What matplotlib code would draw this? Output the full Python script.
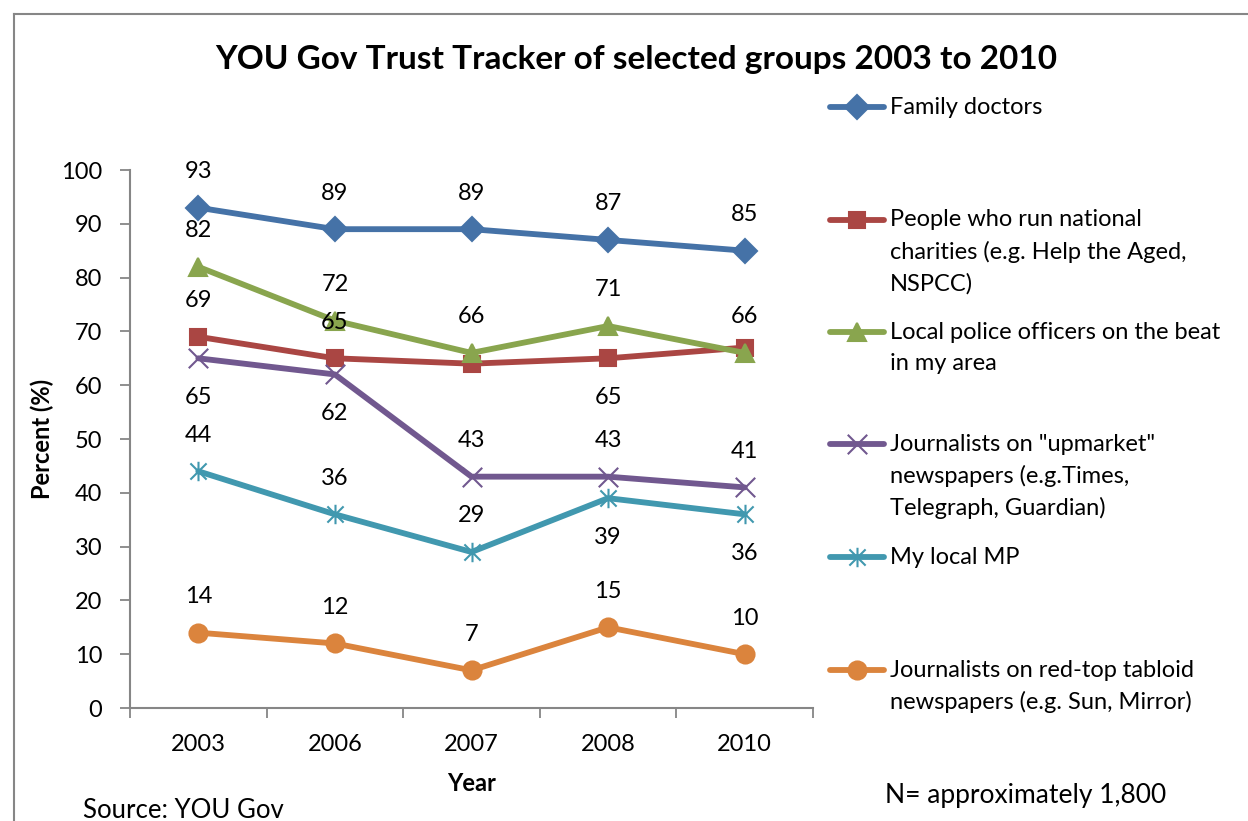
import matplotlib
matplotlib.use("Agg")
import matplotlib.pyplot as plt
from matplotlib.lines import Line2D
from matplotlib.path import Path

plt.rcParams["font.family"] = ["Lato", "DejaVu Sans"]

# ----- data -----
years = ["2003", "2006", "2007", "2008", "2010"]

family_doctors = [93, 89, 89, 87, 85]
charities = [69, 65, 64, 65, 67]
police = [82, 72, 66, 71, 66]
journalists_upmarket = [65, 62, 43, 43, 41]
local_mp = [44, 36, 29, 39, 36]
journalists_tabloid = [14, 12, 7, 15, 10]

series_names = [
    "Family doctors",
    "People who run national\ncharities (e.g. Help the Aged,\nNSPCC)",
    "Local police officers on the beat\nin my area",
    'Journalists on "upmarket"\nnewspapers (e.g.Times,\nTelegraph, Guardian)',
    "My local MP",
    "Journalists on red-top tabloid\nnewspapers (e.g. Sun, Mirror)",
]

# where the value labels sit: "a" above, "b" below, "" no label
label_pos = [
    ["a", "a", "a", "a", "a"],
    ["a", "a", "", "b", ""],
    ["a", "a", "a", "a", "a"],
    ["b", "b", "a", "a", "a"],
    ["a", "a", "a", "b", "b"],
    ["a", "a", "a", "a", "a"],
]

# ----- styles -----
colors = ["#4572A7", "#AA4643", "#89A54E", "#71588F", "#4198AF", "#DB843D"]

star = Path(
    [(-0.5, -0.5), (0.5, 0.5), (-0.5, 0.5), (0.5, -0.5), (0, -0.6), (0, 0.6)],
    [Path.MOVETO, Path.LINETO, Path.MOVETO, Path.LINETO, Path.MOVETO, Path.LINETO],
)
xmark = Path(
    [(-0.5, -0.5), (0.5, 0.5), (-0.5, 0.5), (0.5, -0.5)],
    [Path.MOVETO, Path.LINETO, Path.MOVETO, Path.LINETO],
)
markers = ["D", "s", "^", xmark, star, "o"]
msizes = [12, 12, 13, 14, 14, 13]

W, H = 1248, 821
FS = 17
LW = 4.2
GRAY = "#868686"


def fx(px):
    return px / W


def fy(py):
    return 1 - py / H


fig = plt.figure(figsize=(W / 100, H / 100), dpi=100)
ax = fig.add_axes([fx(130), fy(708), fx(813) - fx(130), fy(170) - fy(708)])

all_series = [family_doctors, charities, police, journalists_upmarket,
              local_mp, journalists_tabloid]
x = list(range(len(years)))

for i, vals in enumerate(all_series):
    ax.plot(x, vals, color=colors[i], lw=LW, marker=markers[i], ms=msizes[i],
            markeredgecolor=colors[i], markerfacecolor=colors[i],
            markeredgewidth=1.5, solid_capstyle="round", zorder=3)
    for j, v in enumerate(vals):
        pos = label_pos[i][j]
        if pos == "":
            continue
        off = 26 if pos == "a" else -28
        ax.annotate(str(v), (x[j], v), xytext=(0, off), textcoords="offset points",
                    ha="center", va="center", fontsize=FS, color="black", zorder=4)

ax.set_xlim(-0.5, len(years) - 0.5)
ax.set_ylim(0, 100)
ax.set_yticks(range(0, 101, 10))

ax.set_xticks([k - 0.5 for k in range(len(years) + 1)])
ax.set_xticklabels([])
ax.set_xticks(x, minor=True)
ax.set_xticklabels(years, minor=True)

ax.tick_params(axis="x", which="major", length=7, width=1.3, color=GRAY, direction="out")
ax.tick_params(axis="x", which="minor", length=0, pad=19, labelsize=FS)
ax.tick_params(axis="y", length=7, width=1.3, color=GRAY, direction="out",
               pad=13, labelsize=FS)

for s in ["top", "right"]:
    ax.spines[s].set_visible(False)
for s in ["left", "bottom"]:
    ax.spines[s].set_color(GRAY)
    ax.spines[s].set_linewidth(1.5)

# axis titles
fig.text(fx(42), fy(439), "Percent (%)", rotation=90, ha="center", va="center",
         fontsize=FS, fontweight="bold")
fig.text(fx(472), fy(783), "Year", ha="center", va="center",
         fontsize=FS, fontweight="bold")

fig.text(fx(636), fy(60), "YOU Gov Trust Tracker of selected groups 2003 to 2010",
         ha="center", va="center", fontsize=24, fontweight="bold")

fig.text(fx(83), fy(810), "Source: YOU Gov", ha="left", va="center", fontsize=18.5)
fig.text(fx(885), fy(795), "N= approximately 1,800", ha="left", va="center", fontsize=19)

# legend drawn by hand so the marker sits on the first text line
entry_tops = [107, 220, 332, 444, 557, 670]
for i, name in enumerate(series_names):
    yy = entry_tops[i]
    fig.add_artist(Line2D([fx(830), fx(884)], [fy(yy), fy(yy)], color=colors[i],
                          lw=LW, solid_capstyle="round"))
    fig.add_artist(Line2D([fx(857)], [fy(yy)], color=colors[i], marker=markers[i],
                          ms=msizes[i], markerfacecolor=colors[i],
                          markeredgecolor=colors[i], markeredgewidth=1.5))
    for k, line in enumerate(name.split("\n")):
        fig.text(fx(890), fy(yy + 32 * k), line, ha="left", va="center", fontsize=FS)

# outer chart frame
fig.add_artist(Line2D([fx(14), fx(W)], [fy(14), fy(14)], color=GRAY, lw=1.5))
fig.add_artist(Line2D([fx(14), fx(14)], [fy(14), fy(H)], color=GRAY, lw=1.5))

fig.savefig("out.png", dpi=100)
